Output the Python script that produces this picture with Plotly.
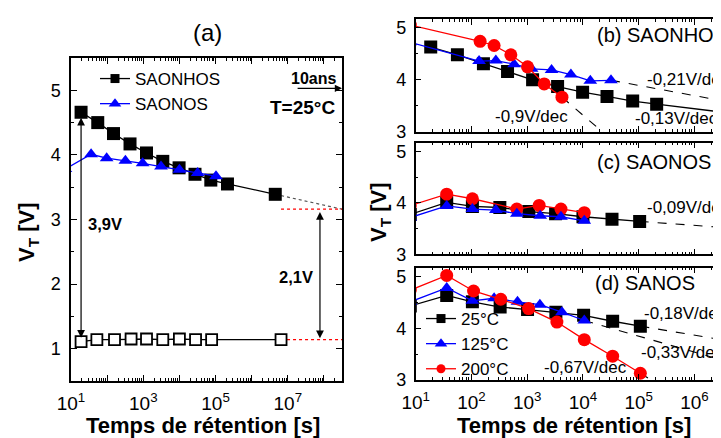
import numpy as np
import plotly.graph_objects as go

# ---------------- data ----------------
# Panel (a): T = 25 C
a_prog_t = [19, 55, 150, 430, 1230, 3470, 9800, 27000, 74000, 214000, 4.5e6]
a_prog_v = [4.66, 4.50, 4.33, 4.17, 4.03, 3.90, 3.80, 3.70, 3.61, 3.55, 3.39]
a_erase_t = [19, 52, 160, 460, 1230, 3470, 10000, 28000, 78000, 6.5e6]
a_erase_v = [1.11, 1.14, 1.14, 1.15, 1.15, 1.14, 1.15, 1.14, 1.14, 1.14]
a_saonos_t = [7, 36, 97, 320, 960, 3100, 10000, 32000, 103000]
a_saonos_v = [3.78, 4.01, 3.95, 3.91, 3.87, 3.82, 3.77, 3.72, 3.67]
a_extra_t = [4.5e6, 3.16e8]          # extrapolation to 10 years
a_extra_v = [3.39, 3.16]
a_ref_t = [6.5e6, 3.16e8]
a_ref_hi = [3.16, 3.16]
a_ref_lo = [1.14, 1.14]
a_window_v = [3.9, 2.1]

# Panel (b): SAONHOS
b25_t = [18.6, 56, 164, 444, 1250, 3510, 9860, 27000, 78000, 210000]
b25_v = [4.63, 4.48, 4.31, 4.16, 4.00, 3.87, 3.76, 3.68, 3.59, 3.53]
b25_fit_t = [210000, 3.0e6]
b25_fit_v = [3.53, 3.38]
b125_t = [8, 137, 274, 583, 1200, 2735, 6080, 13550, 31840]
b125_v = [4.72, 4.36, 4.37, 4.30, 4.21, 4.19, 4.10, 3.98, 3.99]
b125_fit_t = [31840, 3.0e6]
b125_fit_v = [3.99, 3.60]
b200_t = [8, 143, 255, 509, 1014, 2018, 4200]
b200_v = [5.055, 4.74, 4.66, 4.48, 4.25, 3.92, 3.665]
b200_fit_t = [4200, 30000]
b200_fit_v = [3.665, 2.88]

# Panel (c): SAONOS
c25_t = [8, 36, 104, 323, 1070, 3230, 10000, 33200, 104000]
c25_v = [3.775, 4.01, 3.93, 3.91, 3.83, 3.79, 3.73, 3.68, 3.64]
c25_fit_t = [104000, 3.0e6]
c25_fit_v = [3.64, 3.525]
c125_t = [8, 36, 104, 274, 652, 1710, 4030, 10570]
c125_v = [3.716, 3.94, 3.88, 3.86, 3.79, 3.75, 3.73, 3.65]
c200_t = [8, 36, 104, 652, 1640, 4030, 10570]
c200_v = [3.946, 4.17, 4.08, 3.88, 3.95, 3.88, 3.81]

# Panel (d): SANOS
d25_t = [8, 36, 104, 327, 1014, 3270, 10280, 34100, 107000]
d25_v = [4.43, 4.635, 4.51, 4.41, 4.36, 4.31, 4.25, 4.135, 4.04]
d25_fit_t = [107000, 3.0e6]
d25_fit_v = [4.04, 3.78]
d125_t = [8, 36, 104, 255, 670, 1690, 4200, 10570]
d125_v = [4.51, 4.78, 4.53, 4.58, 4.51, 4.455, 4.31, 4.15]
d125_fit_t = [10570, 3.0e6]
d125_fit_v = [4.15, 3.39]
d200_t = [8, 36, 109, 336, 1060, 3410, 10570, 34100, 107000]
d200_v = [4.737, 5.02, 4.72, 4.56, 4.38, 4.12, 3.78, 3.46, 3.13]
d200_fit_t = [107000, 300000]
d200_fit_v = [3.13, 2.83]

temp_labels = ["25°C", "125°C", "200°C"]
series_a = ["SAONHOS", "SAONOS"]
slope_labels_b = ["-0,21V/dec", "-0,9V/dec", "-0,13V/dec"]
slope_labels_c = ["-0,09V/dec"]
slope_labels_d = ["-0,18V/dec", "-0,33V/dec", "-0,67V/dec"]

# ---------------- figure ----------------
# the page body adds an 8 px margin; the figure fills the rest of the 721x438 window
OX, OY = 8, 8
W, H = 721 - OX, 438 - OY
FONT = "Liberation Sans, Arial, sans-serif"
BLACK, BLUE, RED = "#000000", "#0000FF", "#FF0000"

def px(x):
    return (x - OX) / W

def py(y):
    return 1 - (y - OY) / H

fig = go.Figure()

def line_trace(t, v, color, symbol, size, xa, ya, open_=False, width=1.3, dash="solid", mode="lines+markers"):
    mk = dict(symbol=symbol, size=size, color=("white" if open_ else color),
              line=dict(color=color, width=(1.8 if open_ else 0)))
    return go.Scatter(x=t, y=v, mode=mode, xaxis=xa, yaxis=ya, showlegend=False,
                      line=dict(color=color, width=width, dash=dash), marker=mk,
                      cliponaxis=True, hoverinfo="skip")

# Panel (a)
fig.add_trace(line_trace(a_extra_t, a_extra_v, "#555555", "square", 1, "x", "y", dash="dot", mode="lines", width=1.2))
fig.add_trace(line_trace(a_ref_t, a_ref_hi, RED, "square", 1, "x", "y", dash="dot", mode="lines", width=1.2))
fig.add_trace(line_trace(a_ref_t, a_ref_lo, RED, "square", 1, "x", "y", dash="dot", mode="lines", width=1.2))
fig.add_trace(line_trace(a_prog_t, a_prog_v, BLACK, "square", 13, "x", "y"))
fig.add_trace(line_trace(a_erase_t, a_erase_v, BLACK, "square", 11, "x", "y", open_=True))
fig.add_trace(line_trace(a_saonos_t, a_saonos_v, BLUE, "triangle-up", 12, "x", "y"))
# legend entries (a)
fig.add_trace(go.Scatter(x=[None], y=[None], mode="lines+markers", name=series_a[0], xaxis="x", yaxis="y",
                         line=dict(color=BLACK, width=1.3), marker=dict(symbol="square", size=9, color=BLACK),
                         legend="legend"))
fig.add_trace(go.Scatter(x=[None], y=[None], mode="lines+markers", name=series_a[1], xaxis="x", yaxis="y",
                         line=dict(color=BLUE, width=1.3), marker=dict(symbol="triangle-up", size=11, color=BLUE),
                         legend="legend"))

# Panel (b)
fig.add_trace(line_trace(b25_fit_t, b25_fit_v, BLACK, "square", 1, "x2", "y2", mode="lines", width=1.3))
fig.add_trace(line_trace(b125_fit_t, b125_fit_v, BLACK, "square", 1, "x2", "y2", mode="lines", dash="dash", width=1.1))
fig.add_trace(line_trace(b200_fit_t, b200_fit_v, BLACK, "square", 1, "x2", "y2", mode="lines", dash="dash", width=1.1))
fig.add_trace(line_trace(b25_t, b25_v, BLACK, "square", 13, "x2", "y2"))
fig.add_trace(line_trace(b125_t, b125_v, BLUE, "triangle-up", 12, "x2", "y2"))
fig.add_trace(line_trace(b200_t, b200_v, RED, "circle", 13, "x2", "y2"))

# Panel (c)
fig.add_trace(line_trace(c25_fit_t, c25_fit_v, BLACK, "square", 1, "x3", "y3", mode="lines", dash="dash", width=1.1))
fig.add_trace(line_trace(c25_t, c25_v, BLACK, "square", 13, "x3", "y3"))
fig.add_trace(line_trace(c200_t, c200_v, RED, "circle", 13, "x3", "y3"))
fig.add_trace(line_trace(c125_t, c125_v, BLUE, "triangle-up", 12, "x3", "y3"))

# Panel (d)
fig.add_trace(line_trace(d25_fit_t, d25_fit_v, BLACK, "square", 1, "x4", "y4", mode="lines", dash="dash", width=1.1))
fig.add_trace(line_trace(d125_fit_t, d125_fit_v, BLACK, "square", 1, "x4", "y4", mode="lines", dash="dash", width=1.1))
fig.add_trace(line_trace(d200_fit_t, d200_fit_v, BLACK, "square", 1, "x4", "y4", mode="lines", dash="dash", width=1.1))
fig.add_trace(line_trace(d25_t, d25_v, BLACK, "square", 13, "x4", "y4"))
fig.add_trace(line_trace(d125_t, d125_v, BLUE, "triangle-up", 12, "x4", "y4"))
fig.add_trace(line_trace(d200_t, d200_v, RED, "circle", 13, "x4", "y4"))
for name, col, sym, sz in zip(temp_labels, [BLACK, BLUE, RED], ["square", "triangle-up", "circle"], [9, 11, 9]):
    fig.add_trace(go.Scatter(x=[None], y=[None], mode="lines+markers", name=name, xaxis="x4", yaxis="y4",
                             line=dict(color=col, width=1.3), marker=dict(symbol=sym, size=sz, color=col),
                             legend="legend2"))

# ---------------- axes ----------------
def minor_vals(k0, k1):
    return [m * 10 ** k for k in range(k0, k1) for m in range(2, 10)]

axis_common = dict(showline=True, linecolor="black", linewidth=1.5, ticks="inside",
                   tickcolor="black", tickwidth=1.2, showgrid=False, zeroline=False,
                   automargin=False,
                   tickfont=dict(family=FONT, size=19, color="black"))

xa_a = dict(axis_common, type="log", range=[1, 8.5], domain=[px(71), px(342)], anchor="y",
            mirror="allticks", ticklen=6,
            tickvals=[10 ** k for k in range(1, 9)],
            ticktext=[("10<sup>%d</sup>" % k if k % 2 == 1 else "") for k in range(1, 9)],
            minor=dict(tickvals=minor_vals(1, 9), ticks="inside", ticklen=3, tickcolor="black", tickwidth=1),
            ticklabelstandoff=4)
ya_a = dict(axis_common, range=[0.5, 5.5], domain=[py(381), py(58)], anchor="x",
            mirror="allticks", ticklen=6, tickvals=[1, 2, 3, 4, 5],
            minor=dict(dtick=0.5, ticks="inside", ticklen=3, tickcolor="black", tickwidth=1),
            tickfont=dict(family=FONT, size=18, color="black"), ticklabelstandoff=5)

RX = [1, 1 + (721 - 415.7) / 55.75]
def xa_r(anchor, labels):
    return dict(axis_common, type="log", range=RX, domain=[px(415.7), 1], anchor=anchor,
                mirror="allticks", ticklen=6, showticklabels=labels,
                tickvals=[10 ** k for k in range(1, 7)],
                ticktext=["10<sup>%d</sup>" % k for k in range(1, 7)],
                minor=dict(tickvals=minor_vals(1, 7), ticks="inside", ticklen=3, tickcolor="black", tickwidth=1),
                ticklabelstandoff=4)

def ya_r(anchor, dom):
    return dict(axis_common, range=[3, 5.17], domain=dom, anchor=anchor, mirror=False,
                ticklen=6, tickvals=[3, 4, 5],
                minor=dict(tickvals=[3.5, 4.5], ticks="inside", ticklen=3, tickcolor="black", tickwidth=1),
                tickfont=dict(family=FONT, size=18, color="black"), ticklabelstandoff=4)

fig.update_layout(
    template="none",
    width=W, height=H, margin=dict(l=0, r=0, t=0, b=0, pad=0, autoexpand=False),
    paper_bgcolor="white", plot_bgcolor="white",
    font=dict(family=FONT, color="black"),
    xaxis=xa_a, yaxis=ya_a,
    xaxis2=xa_r("y2", False), yaxis2=ya_r("x2", [py(131.7), py(19)]),
    xaxis3=xa_r("y3", False), yaxis3=ya_r("x3", [py(254.3), py(142.7)]),
    xaxis4=xa_r("y4", True), yaxis4=ya_r("x4", [py(380), py(267.7)]),
    legend=dict(x=px(95), y=py(61), xanchor="left", yanchor="top", bgcolor="rgba(0,0,0,0)",
                font=dict(family=FONT, size=17, color="black"), tracegroupgap=0, itemwidth=30),
    legend2=dict(x=px(421), y=py(301), xanchor="left", yanchor="top", bgcolor="rgba(0,0,0,0)",
                 font=dict(family=FONT, size=17, color="black"), tracegroupgap=0, itemwidth=30),
)

# ---------------- annotations ----------------
def txt(x, y, s, size, bold=False, xanchor="center", angle=0):
    fig.add_annotation(x=px(x), y=py(y), xref="paper", yref="paper", text=("<b>%s</b>" % s if bold else s),
                       showarrow=False, xanchor=xanchor, yanchor="middle", textangle=angle,
                       font=dict(family=FONT, size=size, color="black"))

txt(207, 32, "(a)", 24)
txt(203, 425, "Temps de rétention [s]", 22, bold=True)
txt(574, 425, "Temps de rétention [s]", 22, bold=True)
txt(28, 232, "V<sub>T</sub> [V]", 22, bold=True, angle=-90)
txt(380, 212, "V<sub>T</sub> [V]", 22, bold=True, angle=-90)
txt(313, 78, "10ans", 16, bold=True)
txt(302, 108, "T=25°C", 19, bold=True)
txt(105, 224, ("%.1fV" % a_window_v[0]).replace(".", ","), 16.5, bold=True)
txt(296, 277, ("%.1fV" % a_window_v[1]).replace(".", ","), 16.5, bold=True)

txt(595, 35, "(b) SAONHOS", 20, xanchor="left")
txt(645, 80, slope_labels_b[0], 17, xanchor="left")
txt(493, 117, slope_labels_b[1], 17, xanchor="left")
txt(633, 118, slope_labels_b[2], 17, xanchor="left")
txt(595, 162, "(c) SAONOS", 20, xanchor="left")
txt(645, 208, slope_labels_c[0], 17, xanchor="left")
txt(593, 283, "(d) SANOS", 20, xanchor="left")
txt(642, 313, slope_labels_d[0], 17, xanchor="left")
txt(639, 352, slope_labels_d[1], 17, xanchor="left")
txt(542, 367, slope_labels_d[2], 17, xanchor="left")

# arrows in panel (a) (x in log units)
lx1 = np.log10(a_prog_t[0])
fig.add_annotation(x=lx1, y=a_erase_v[0] + 0.06, ax=lx1, ay=a_prog_v[0] - 0.06, xref="x", yref="y",
                   axref="x", ayref="y", text="", showarrow=True, arrowhead=2, arrowside="end+start",
                   arrowsize=1.3, arrowwidth=1.2, arrowcolor="black")
lx2 = 7.89
fig.add_annotation(x=lx2, y=a_ref_lo[0] + 0.02, ax=lx2, ay=a_ref_hi[0] - 0.02, xref="x", yref="y",
                   axref="x", ayref="y", text="", showarrow=True, arrowhead=2, arrowside="end+start",
                   arrowsize=1.3, arrowwidth=1.2, arrowcolor="black")
fig.add_annotation(x=8.5, y=5.03, ax=7.23, ay=5.03, xref="x", yref="y", axref="x", ayref="y",
                   text="", showarrow=True, arrowhead=2, arrowsize=1.2, arrowwidth=1.2, arrowcolor="black")

fig.write_html("out.html")
